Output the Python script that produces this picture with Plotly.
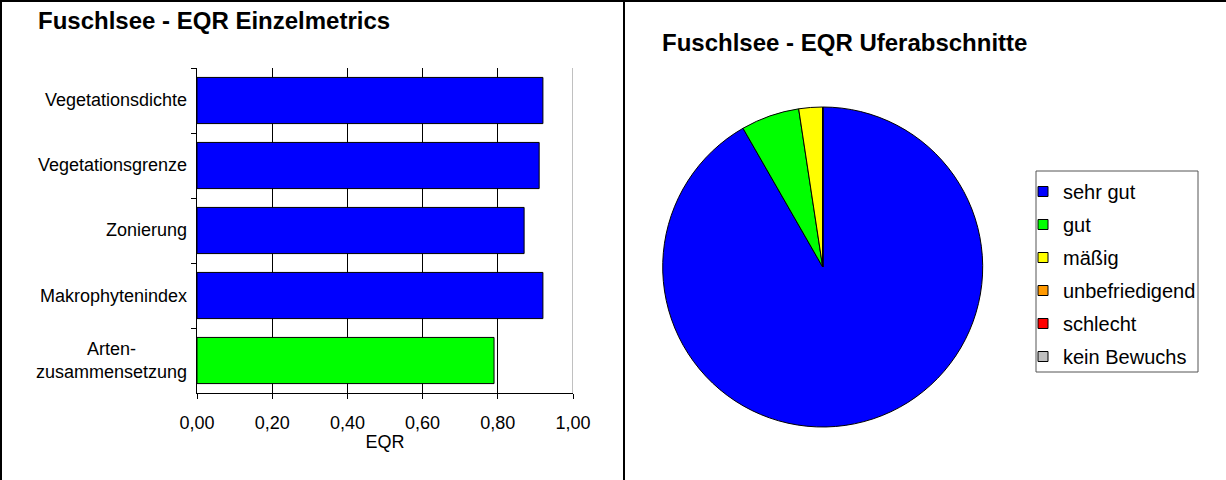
import plotly.graph_objects as go

# ---------------- data ----------------
bar_categories = ["Vegetationsdichte", "Vegetationsgrenze", "Zonierung",
                  "Makrophytenindex", "Arten-zusammensetzung"]
bar_labels = ["Vegetationsdichte", "Vegetationsgrenze", "Zonierung",
              "Makrophytenindex", "Arten-<br>zusammensetzung"]
eqr_values = [0.92, 0.91, 0.87, 0.92, 0.79]
bar_colors = ["#0000FF", "#0000FF", "#0000FF", "#0000FF", "#00FF00"]

x_ticks = [0.0, 0.2, 0.4, 0.6, 0.8, 1.0]

pie_labels = ["sehr gut", "gut", "mäßig", "unbefriedigend", "schlecht", "kein Bewuchs"]
pie_values = [91.7, 5.9, 2.4, 0, 0, 0]
pie_colors = ["#0000FF", "#00FF00", "#FFFF00", "#FF9900", "#FF0000", "#C0C0C0"]

title_left = "Fuschlsee - EQR Einzelmetrics"
title_right = "Fuschlsee - EQR Uferabschnitte"

FONT = "Liberation Sans, Arial, sans-serif"
W, H = 1226, 480

def px(x):
    return x / W

def py(y):
    return 1 - y / H

fig = go.Figure()

fig.add_trace(go.Bar(
    x=eqr_values, y=bar_categories, orientation="h",
    marker=dict(color=bar_colors, line=dict(color="black", width=1)),
    showlegend=False, hoverinfo="x+y",
))

fig.add_trace(go.Pie(
    labels=pie_labels, values=pie_values, sort=False, direction="clockwise",
    rotation=0, marker=dict(colors=pie_colors, line=dict(color="black", width=1)),
    textinfo="none", showlegend=False,
    domain=dict(x=[px(662.7), px(982.7)], y=[py(427), py(107)]),
))

# legend entries (one group per category so spacing can be set)
for lab, col in zip(pie_labels, pie_colors):
    fig.add_trace(go.Scatter(
        x=[None], y=[None], mode="markers", name=lab, legendgroup=lab,
        marker=dict(symbol="square", size=10, color=col,
                    line=dict(color="black", width=1)),
        showlegend=True,
    ))

# category labels (centered multi-line like the original)
annotations = []
for cat, lab in zip(bar_categories, bar_labels):
    annotations.append(dict(
        x=px(189), xref="paper", y=cat, yref="y", text=lab, showarrow=False,
        xanchor="right", yanchor="middle", align="center",
        font=dict(family=FONT, size=18, color="black"),
    ))

annotations.append(dict(x=px(36), y=py(21), xref="paper", yref="paper",
                        text="<b>" + title_left + "</b>", showarrow=False,
                        xanchor="left", yanchor="middle",
                        font=dict(family=FONT, size=24, color="black")))
annotations.append(dict(x=px(660), y=py(42), xref="paper", yref="paper",
                        text="<b>" + title_right + "</b>", showarrow=False,
                        xanchor="left", yanchor="middle",
                        font=dict(family=FONT, size=24, color="black")))

shapes = [
    # outer frame and divider
    dict(type="line", xref="paper", yref="paper", x0=px(1), x1=px(1), y0=0, y1=1,
         line=dict(color="black", width=2)),
    dict(type="line", xref="paper", yref="paper", x0=0, x1=1, y0=py(1), y1=py(1),
         line=dict(color="black", width=2)),
    dict(type="line", xref="paper", yref="paper", x0=px(624), x1=px(624), y0=0, y1=1,
         line=dict(color="black", width=2)),
    # plot-area right border (gray)
    dict(type="line", xref="x", yref="y domain", x0=1, x1=1, y0=0, y1=1,
         line=dict(color="#808080", width=1), layer="above"),
    # legend frame
    dict(type="rect", xref="paper", yref="paper",
         x0=px(1036), x1=px(1198), y0=py(372), y1=py(171),
         line=dict(color="#555555", width=1), fillcolor="white", layer="below"),
]

fig.update_layout(
    autosize=True,
    margin=dict(l=0, r=0, t=0, b=0, autoexpand=False),
    paper_bgcolor="white", plot_bgcolor="white",
    font=dict(family=FONT, size=18, color="black"),
    separators=",.",
    bargap=0.29,
    showlegend=True,
    legend=dict(x=px(1023), y=py(172), xanchor="left", yanchor="top",
                bgcolor="rgba(0,0,0,0)", borderwidth=0,
                font=dict(family=FONT, size=20, color="black"),
                tracegroupgap=4, itemclick=False, itemdoubleclick=False),
    annotations=annotations,
    shapes=shapes,
    xaxis=dict(
        domain=[px(197), px(573)], range=[0, 1], tickvals=x_ticks,
        tickformat=".2f", ticks="outside", ticklen=5, tickcolor="black",
        showline=True, linecolor="black", linewidth=1,
        showgrid=True, gridcolor="black", gridwidth=1, zeroline=False,
        tickfont=dict(family=FONT, size=18), ticklabelstandoff=8,
        title=dict(text="EQR", standoff=3, font=dict(family=FONT, size=18)),
        fixedrange=True,
    ),
    yaxis=dict(
        domain=[py(393), py(68)], type="category",
        categoryorder="array", categoryarray=bar_categories,
        autorange="reversed",
        showticklabels=False, ticks="outside", ticklen=5, tickcolor="black",
        tickson="boundaries", showline=True, linecolor="black", linewidth=1,
        showgrid=False, zeroline=False, fixedrange=True,
    ),
)

post = ("document.body.style.margin='0';document.body.style.padding='0';"
        "document.body.style.overflow='hidden';"
        "document.documentElement.style.overflow='hidden';"
        "window.dispatchEvent(new Event('resize'));")

fig.write_html("out.html", config={"displayModeBar": False, "responsive": True},
               default_width="100vw", default_height="100vh", post_script=post)
